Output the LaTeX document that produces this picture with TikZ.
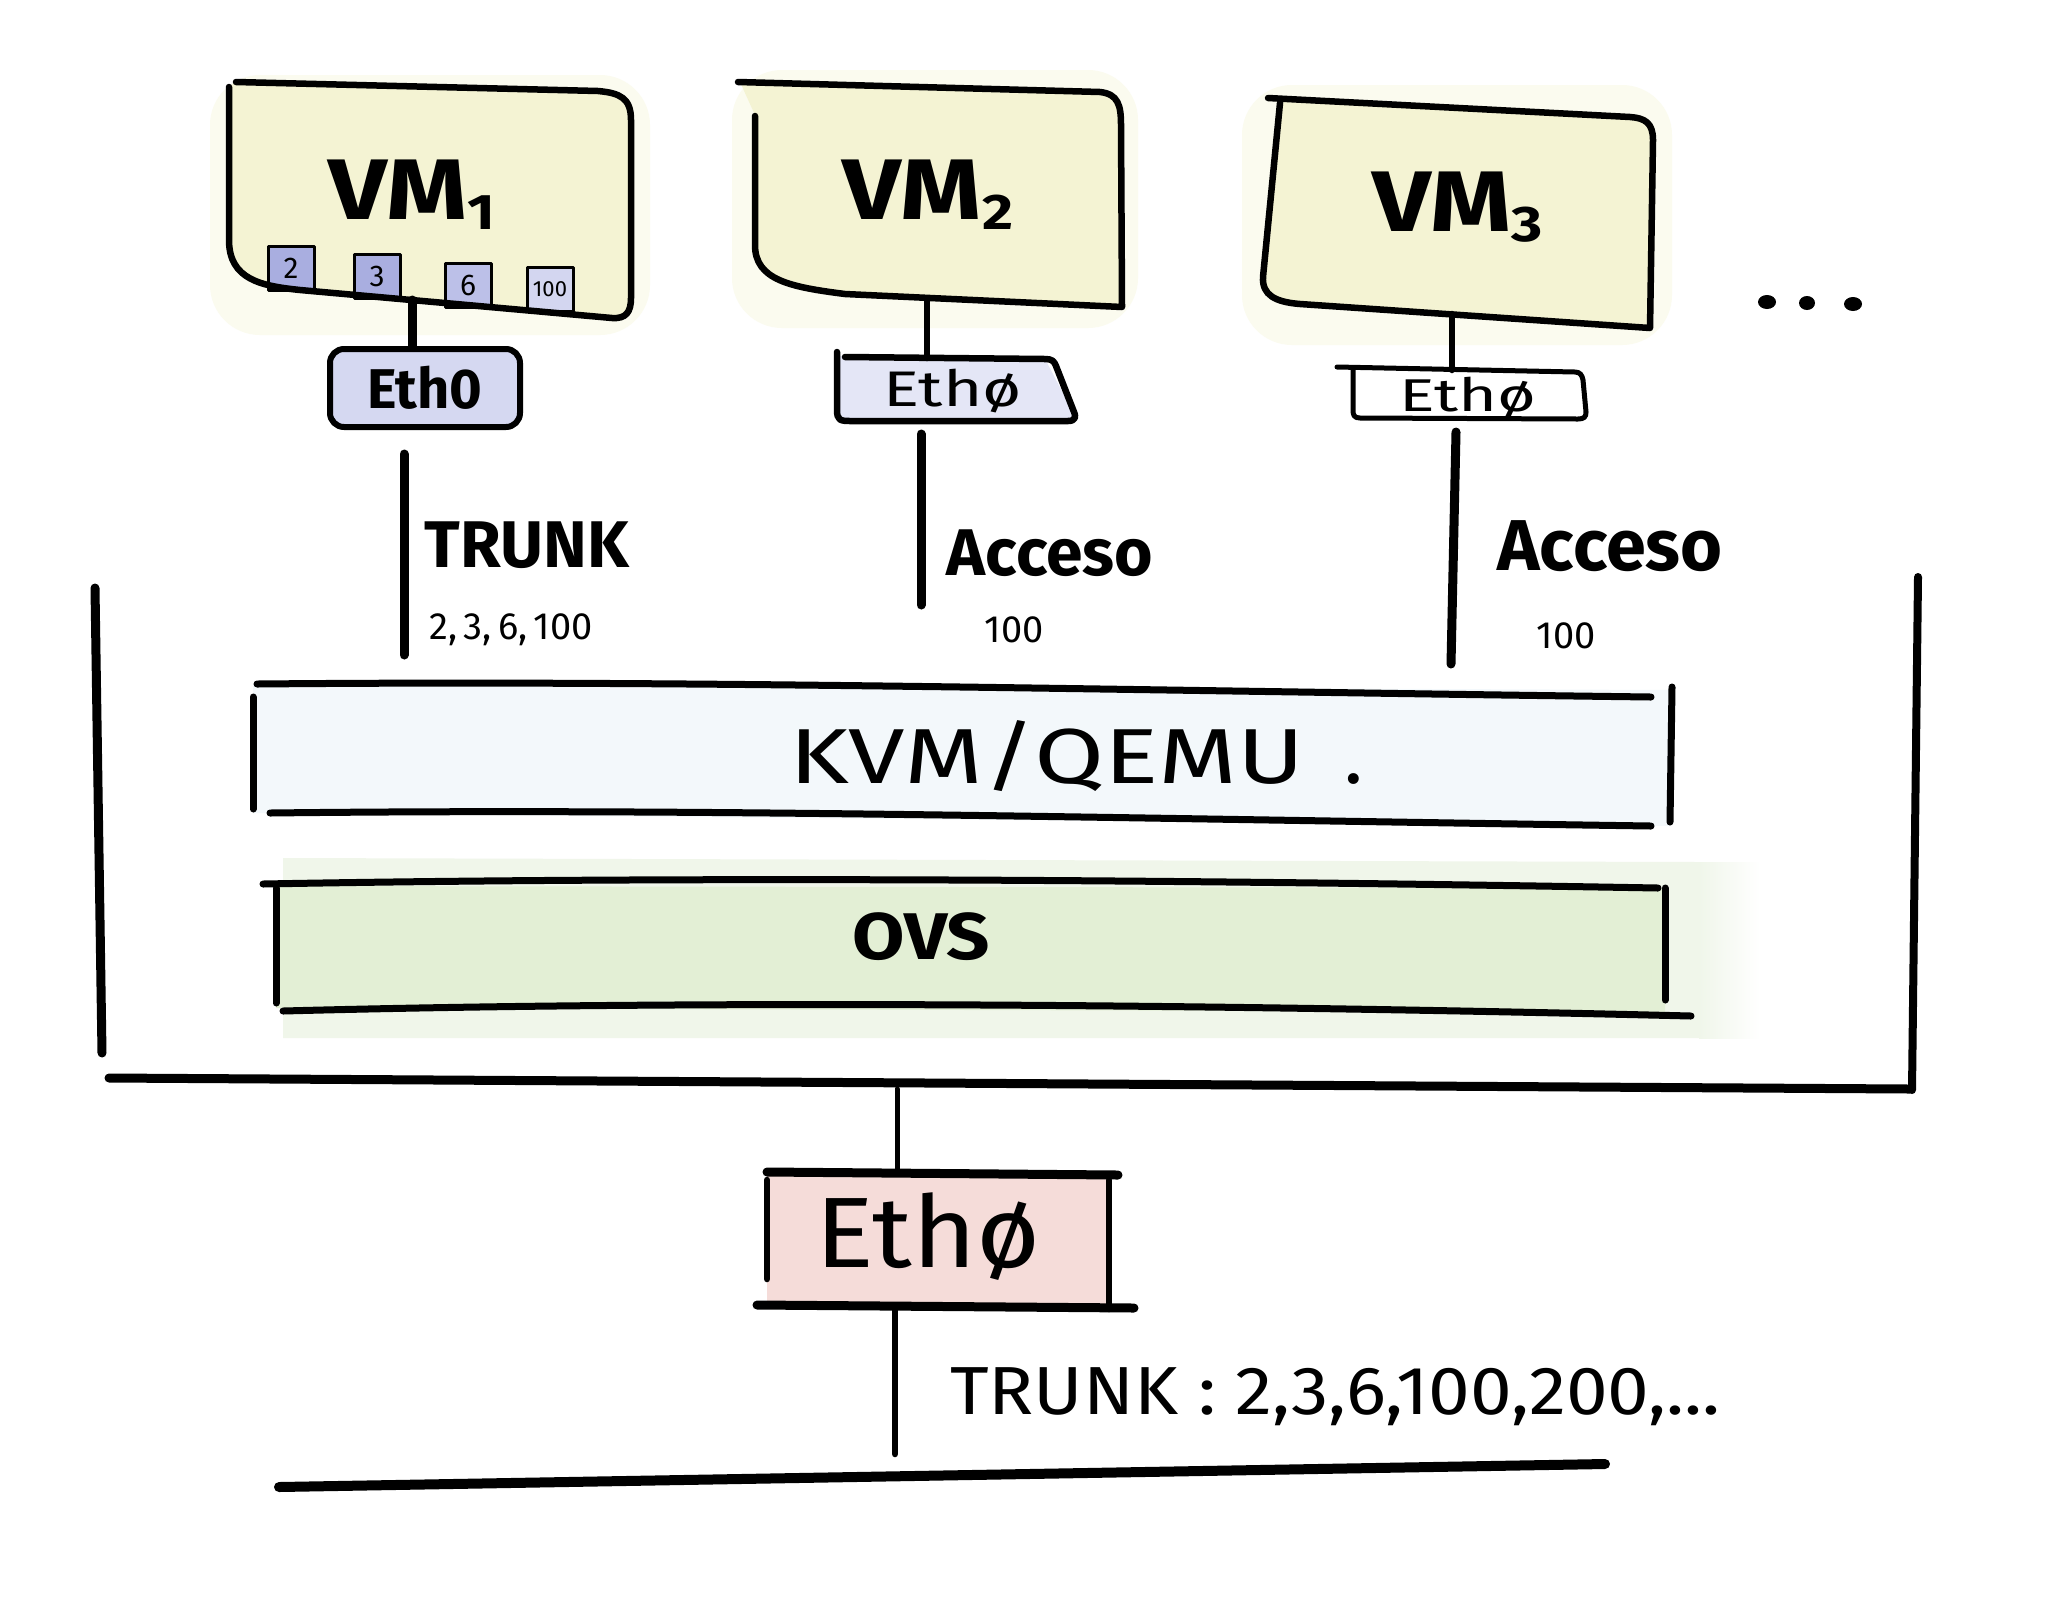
\documentclass[tikz,border=0pt]{standalone}
\usepackage{fontspec}
\usepackage{graphicx}
\setmainfont{Fira Sans}
\usetikzlibrary{calc}
\definecolor{vmyellow}{HTML}{F4F3D3}
\definecolor{vmglow}{HTML}{FBFBEF}
\definecolor{ethblue}{HTML}{D5D8F1}
\definecolor{ethblue2}{HTML}{E4E6F6}
\definecolor{vlanA}{HTML}{A9AEE0}
\definecolor{vlanB}{HTML}{BCC0E8}
\definecolor{vlanC}{HTML}{D3D6F0}
\definecolor{kvmblue}{HTML}{F3F8FB}
\definecolor{ovsgreen}{HTML}{E3EFD5}
\definecolor{ovsglow}{HTML}{F0F6EA}
\definecolor{ethpink}{HTML}{F5DCD9}
\newcommand\myfs[1]{\fontsize{#1}{#1}\selectfont}
\newcommand\lowsub[1]{\raisebox{-0.12em}{\myfs{50}#1}}
\begin{document}
\begin{tikzpicture}[x=1pt,y=-1pt,line cap=round,line join=round,
  ink/.style={draw=black,line width=6.5pt},
  heavy/.style={draw=black,line width=9pt},
  vlan/.style={draw=black,line width=3pt,minimum width=46pt,minimum height=44pt,inner sep=0pt,font=\myfs{30}},
  vmlabel/.style={font=\bfseries\myfs{86}},
  biglab/.style={font=\bfseries\myfs{66}},
  smalllab/.style={font=\myfs{38}},
  ethtext/.style={font=\myfs{50}}]
\useasboundingbox (0,0) rectangle (2063,1615);
\fill[white] (0,0) rectangle (2063,1615);

% ---------- VM1 ----------
\fill[vmglow,rounded corners=50pt] (210,75) rectangle (650,335);
\fill[vmyellow] (229,87) -- (229,240) .. controls (229,280) and (262,286) .. (300,290) -- (612,318) .. controls (626,319) and (631,312) .. (631,298) -- (631,120) .. controls (631,98) and (620,93) .. (598,91) -- (236,82) -- cycle;
\node[vlan,fill=vlanA] (v2) at (291,268) {2};
\node[vlan,fill=vlanA] (v3) at (377,276) {3};
\node[vlan,fill=vlanB] (v6) at (468,285) {6};
\node[vlan,fill=vlanC,font=\myfs{22}] (v100) at (550,289) {100};
\draw[ink] (229,87) -- (229,240) .. controls (229,280) and (262,286) .. (300,290) -- (612,318) .. controls (626,319) and (631,312) .. (631,298) -- (631,120) .. controls (631,98) and (620,93) .. (598,91) -- (236,82);
\node[vmlabel] (vm1) at (412,195) {\scalebox{1.2}[1]{VM\lowsub{1}}};
\coordinate (vm1b) at (412,300);
\node[draw=black,line width=6pt,fill=ethblue,rounded corners=14pt,minimum width=190pt,minimum height=78pt,inner sep=0pt,font=\bfseries\myfs{56}] (eth1) at (425,388) {Eth0};
\draw[black,line width=9pt] (vm1b) -- (vm1b |- eth1.north);

% ---------- VM2 ----------
\fill[vmglow,rounded corners=50pt] (732,70) rectangle (1138,328);
\fill[vmyellow] (740,82) -- (1100,92) .. controls (1118,94) and (1121,105) .. (1121,125) -- (1122,307) -- (845,294) .. controls (790,287) and (755,280) .. (755,245) -- (755,115) -- cycle;
\draw[ink] (755,116) -- (755,245) .. controls (755,280) and (790,287) .. (845,294) -- (1122,307) -- (1121,125) .. controls (1121,105) and (1118,94) .. (1100,92) -- (738,82);
\node[vmlabel] (vm2) at (928,195) {\scalebox{1.2}[1]{VM\lowsub{2}}};
\coordinate (vm2b) at (927,300);
\fill[ethblue2] (837,356) -- (1045,359) -- (1074,414) -- (1070,421) -- (845,421) -- (837,410) -- cycle;
\draw[ink] (837,352) -- (837,410) .. controls (837,420) and (840,421) .. (850,421) -- (1068,421) .. controls (1076,421) and (1076,416) .. (1074,412) -- (1056,366) .. controls (1054,361) and (1052,359) .. (1045,359) -- (845,357);
\node[ethtext] (eth2) at (953,391) {\scalebox{1.35}[1]{Ethø}};
\coordinate (eth2t) at (927,358);
\draw[ink] (vm2b) -- (eth2t);

% ---------- VM3 ----------
\fill[vmglow,rounded corners=50pt] (1242,85) rectangle (1672,345);
\fill[vmyellow] (1268,98) -- (1630,117) .. controls (1645,118) and (1653,123) .. (1653,140) -- (1650,328) -- (1300,304) .. controls (1275,302) and (1262,295) .. (1263,277) -- (1280,103) -- cycle;
\draw[ink] (1280,103) -- (1263,277) .. controls (1262,295) and (1275,302) .. (1300,304) -- (1650,328) -- (1653,140) .. controls (1653,123) and (1645,118) .. (1630,117) -- (1268,98);
\node[vmlabel] (vm3) at (1458,207) {\scalebox{1.2}[1]{VM\lowsub{3}}};
\coordinate (vm3b) at (1452,314);
\draw[ink,line width=5pt] (1337,367) -- (1575,372) .. controls (1580,372) and (1582,375) .. (1583,380) -- (1586,412) .. controls (1586,417) and (1584,419) .. (1578,419) -- (1360,418) .. controls (1354,418) and (1353,415) .. (1353,410) -- (1353,370);
\node[ethtext,font=\myfs{46}] (eth3) at (1468,397) {\scalebox{1.45}[1]{Ethø}};
\coordinate (eth3t) at (1452,370);
\draw[ink] (vm3b) -- (eth3t);

% ---------- dots ----------
\fill[black] (1767,302) ellipse [x radius=9pt,y radius=7pt];
\fill[black] (1807,303) ellipse [x radius=8pt,y radius=7pt];
\fill[black] (1853,304) ellipse [x radius=9pt,y radius=7pt];

% ---------- links to hypervisor ----------
\coordinate (t1a) at (404,454); \coordinate (t1b) at (404,655);
\draw[heavy] (t1a) -- (t1b);
\node[biglab] (trunk1) at (527,545) {TRUNK};
\node[smalllab] (vl1) at (511,630) {2,\,3,\,6,\,100};
\coordinate (t2a) at (921,434); \coordinate (t2b) at (921,605);
\draw[heavy] (t2a) -- (t2b);
\node[biglab] (acc2) at (1050,553) {Acceso};
\node[smalllab] (vl2) at (1014,630) {100};
\coordinate (t3a) at (1456,432); \coordinate (t3b) at (1451,664);
\draw[heavy] (t3a) -- (t3b);
\node[biglab,font=\bfseries\myfs{72}] (acc3) at (1610,546) {Acceso};
\node[smalllab] (vl3) at (1566,636) {100};

% ---------- host frame ----------
\coordinate (hl1) at (95,588); \coordinate (hl2) at (102,1053);
\coordinate (hb1) at (109,1078); \coordinate (hb2) at (1910,1089);
\coordinate (hr1) at (1918,577); \coordinate (hr2) at (1912,1090);
\draw[heavy] (hl1) -- (hl2);
\draw[heavy] (hb1) -- (hb2);
\draw[ink,line width=8pt] (hr1) -- (hr2);

% ---------- KVM/QEMU ----------
\fill[kvmblue] (253,684) -- (1671,690) -- (1671,826) -- (253,813) -- cycle;
\draw[ink,line width=7pt] (257,684) .. controls (700,680) and (1100,690) .. (1651,697);
\draw[ink,line width=7pt] (253,697) -- (253,809);
\draw[ink,line width=7pt] (270,813) .. controls (700,808) and (1100,818) .. (1651,826);
\draw[ink,line width=7pt] (1672,687) -- (1670,822);
\node[anchor=base west,inner sep=0pt,font=\myfs{78}] (kvm) at (789,783) {\scalebox{1.3}[1]{KVM/QEMU}\hspace{40pt}.};

% ---------- OVS ----------
\fill[ovsglow] (283,858) -- (1700,862) -- (1700,1038) -- (283,1038) -- cycle;
\shade[left color=ovsglow,right color=white] (1699,862) rectangle (1760,1038);
\fill[ovsgreen] (276,886) -- (1665,888) -- (1665,1012) -- (276,1008) -- cycle;
\draw[ink,line width=7pt] (263,884) .. controls (700,876) and (1200,880) .. (1658,888);
\draw[ink,line width=7pt] (276,888) -- (276,1003);
\draw[ink,line width=7pt] (283,1011) .. controls (700,1000) and (1200,1004) .. (1691,1016);
\draw[ink,line width=7pt] (1665,888) -- (1665,1000);
\node[font=\bfseries\myfs{66}] (ovs) at (921,937) {\scalebox{1.15}[1]{OVS}};

% ---------- physical Eth0 ----------
\fill[ethpink] (767,1175) rectangle (1109,1305);
\coordinate (e0t) at (897,1172);
\draw[black,line width=9pt] (767,1172) -- (1118,1175);
\draw[ink] (767,1180) -- (767,1279);
\draw[ink] (1109,1180) -- (1109,1309);
\draw[black,line width=9pt] (757,1305) -- (1134,1308);
\node[font=\myfs{100}] (eth0) at (928,1237) {\scalebox{1.1}[1]{Ethø}};
\coordinate (hostb) at (897,1089);
\draw[ink,line width=5pt] (hostb) -- (e0t);
\coordinate (e0b) at (895,1309); \coordinate (e0c) at (895,1454);
\draw[ink] (e0b) -- (e0c);
\node[anchor=base west,inner sep=0pt,font=\myfs{68}] (trunk0) at (950,1414) {\scalebox{1.1}[1]{TRUNK : 2,3,6,100,200,...}};
\coordinate (net1) at (279,1487); \coordinate (net2) at (1605,1464);
\draw[black,line width=10pt] (net1) -- (net2);
\end{tikzpicture}
\end{document}
